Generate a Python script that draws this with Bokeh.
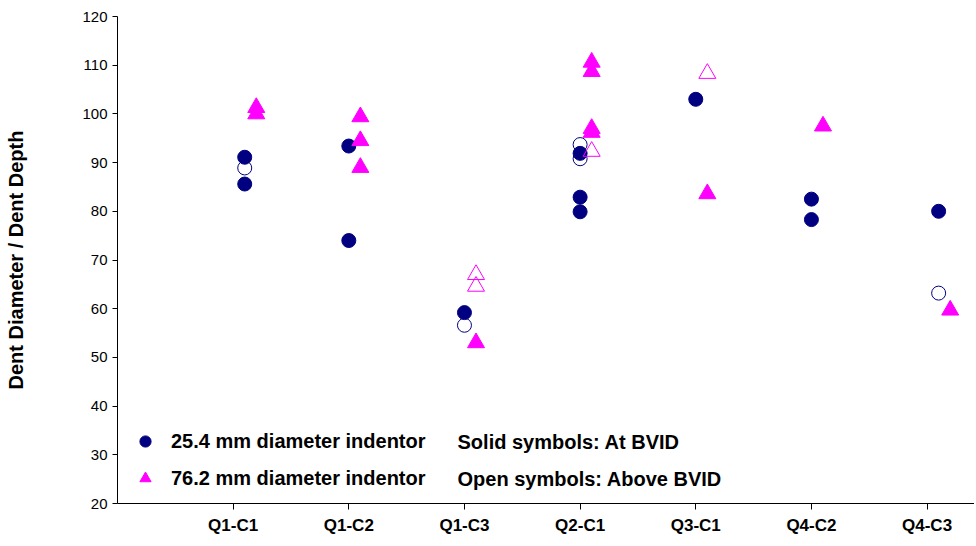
from bokeh.plotting import figure
from bokeh.models import (Range1d, FixedTicker, Legend, LegendItem, Label)
from bokeh.embed import file_html
from bokeh.resources import INLINE

# ---- data ----
categories = ["Q1-C1", "Q1-C2", "Q1-C3", "Q2-C1", "Q3-C1", "Q4-C2", "Q4-C3"]
cat_pos = [1, 2, 3, 4, 5, 6, 7]

# 25.4 mm indentor, solid symbols (at BVID)
small_solid_x = [1.1, 1.1, 2, 2, 3, 4, 4, 4, 5, 6, 6, 7.1]
small_solid_y = [91.1, 85.6, 93.4, 74.0, 59.2, 91.9, 82.9, 79.9, 103.0, 82.5, 78.3, 80.0]
# 25.4 mm indentor, open symbols (above BVID)
small_open_x = [1.1, 3, 4, 4, 7.1]
small_open_y = [88.9, 56.6, 93.7, 90.8, 63.2]
# 76.2 mm indentor, solid symbols (at BVID)
large_solid_x = [1.2, 1.2, 2.1, 2.1, 2.1, 3.1, 4.1, 4.1, 4.1, 4.1, 5.1, 6.1, 7.2]
large_solid_y = [101.3, 100.0, 99.4, 94.5, 89.0, 53.0, 110.6, 108.7, 97.0, 96.2, 83.6, 97.5, 59.7]
# 76.2 mm indentor, open symbols (above BVID)
large_open_x = [3.1, 3.1, 4.1, 5.1]
large_open_y = [67.0, 64.6, 92.3, 108.3]

y_ticks = [20, 30, 40, 50, 60, 70, 80, 90, 100, 110, 120]

NAVY = "#000080"
MAGENTA = "#FF00FF"
FONT = "Liberation Sans"

p = figure(width=974, height=540, output_backend="svg", toolbar_location=None,
           x_range=Range1d(0, 7.41), y_range=Range1d(20, 120),
           min_border_left=117, min_border_top=16, min_border_right=0,
           min_border_bottom=37)
p.outline_line_color = None
p.background_fill_color = "white"
p.border_fill_color = "white"
p.xgrid.grid_line_color = None
p.ygrid.grid_line_color = None

r_so = p.scatter(small_open_x, small_open_y, marker="circle", size=14,
                 fill_color=None, line_color=NAVY, line_width=1)
r_ss = p.scatter(small_solid_x, small_solid_y, marker="circle", size=14,
                 fill_color=NAVY, line_color=NAVY)
r_lo = p.scatter(large_open_x, large_open_y, marker="triangle", size=17,
                 fill_color=None, line_color=MAGENTA, line_width=1)
r_ls = p.scatter(large_solid_x, large_solid_y, marker="triangle", size=17,
                 fill_color=MAGENTA, line_color=MAGENTA)

# axes
xa = p.xaxis[0]
xa.ticker = FixedTicker(ticks=cat_pos)
xa.major_label_overrides = {c: lab for c, lab in zip(cat_pos, categories)}
xa.minor_tick_line_color = None
xa.major_tick_in = 0
xa.major_tick_out = 6
xa.major_label_standoff = 6
xa.major_label_text_font = FONT
xa.major_label_text_font_style = "bold"
xa.major_label_text_font_size = "17px"
xa.major_label_text_color = "black"
xa.axis_line_color = "black"
xa.major_tick_line_color = "black"

ya = p.yaxis[0]
ya.ticker = FixedTicker(ticks=y_ticks)
ya.minor_tick_line_color = None
ya.major_tick_in = 0
ya.major_tick_out = 5
ya.major_label_standoff = 5
ya.major_label_text_font = FONT
ya.major_label_text_font_size = "15px"
ya.major_label_text_color = "black"
ya.axis_line_color = "black"
ya.major_tick_line_color = "black"
ya.axis_label = "Dent Diameter / Dent Depth"
ya.axis_label_text_font = FONT
ya.axis_label_text_font_style = "bold"
ya.axis_label_text_font_size = "20px"
ya.axis_label_text_color = "black"
ya.axis_label_standoff = 52

# legend
legend = Legend(items=[
    LegendItem(label="25.4 mm diameter indentor", renderers=[r_ss]),
    LegendItem(label="76.2 mm diameter indentor", renderers=[r_ls]),
], location=(14, 11), orientation="vertical")
legend.border_line_color = None
legend.background_fill_alpha = 0
legend.padding = 0
legend.margin = 0
legend.spacing = 9
legend.glyph_width = 28
legend.glyph_height = 28
legend.label_height = 28
legend.label_standoff = 12
legend.label_text_font = FONT
legend.label_text_font_style = "bold"
legend.label_text_font_size = "20px"
legend.label_text_color = "black"
p.add_layout(legend)

for txt, yv in [("Solid symbols: At BVID", 32.7), ("Open symbols: Above BVID", 25.1)]:
    p.add_layout(Label(x=2.94, y=yv, text=txt, text_font=FONT,
                       text_font_style="bold", text_font_size="20px",
                       text_color="black", text_baseline="middle"))

open("out.html", "w").write(file_html(p, INLINE))
